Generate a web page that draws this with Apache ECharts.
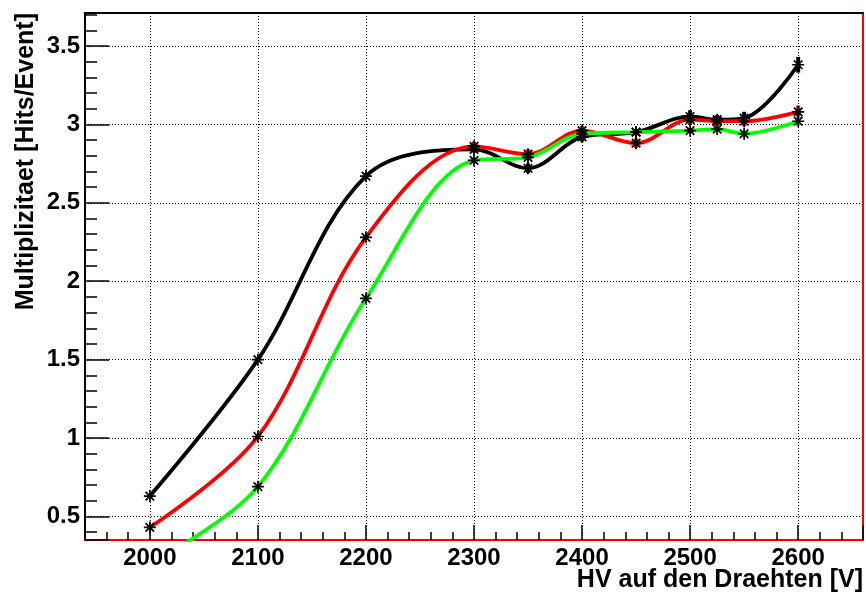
<!DOCTYPE html>
<html>
<head>
<meta charset="utf-8">
<script src="https://cdn.jsdelivr.net/npm/echarts@6/dist/echarts.min.js"></script>
<style>
html,body{margin:0;padding:0;background:#fff;}
#c{width:866px;height:596px;}
</style>
</head>
<body>
<div id="c"></div>
<script>
// ---- data ----
const voltages = [2000, 2100, 2200, 2300, 2350, 2400, 2450, 2500, 2525, 2550, 2600];
const blackValues = [0.63, 1.50, 2.67, 2.84, 2.72, 2.92, 2.95, 3.05, 3.03, 3.04, 3.38];
const redValues   = [0.43, 1.01, 2.28, 2.86, 2.81, 2.96, 2.88, 3.03, 3.02, 3.02, 3.08];
const greenValues = [0.20, 0.69, 1.89, 2.77, 2.79, 2.94, 2.95, 2.96, 2.97, 2.94, 3.02];
const blackErrors = [0.01, 0.01, 0.02, 0.02, 0.03, 0.03, 0.02, 0.04, 0.03, 0.04, 0.05];
const redErrors   = [0.01, 0.01, 0.01, 0.03, 0.03, 0.03, 0.03, 0.03, 0.03, 0.03, 0.04];
const greenErrors = [0.01, 0.01, 0.01, 0.02, 0.02, 0.02, 0.02, 0.02, 0.02, 0.02, 0.03];
const xTitle = 'HV auf den Draehten [V]';
const yTitle = 'Multiplizitaet [Hits/Event]';

// ---- chart ----
const FONT = '"Liberation Sans", Arial, Helvetica, sans-serif';
const XMIN = 1940, XMAX = 2660, YMIN = 0.35, YMAX = 3.71;
const STAR = 'path://M8.6 0h2.8v20h-2.8z M0 8.6h20v2.8h-20z M1.9 3.9L3.9 1.9L18.1 16.1L16.1 18.1z M16.1 1.9L18.1 3.9L3.9 18.1L1.9 16.1z';

function lineSeries(name, vals, color) {
  return {
    name: name, type: 'line', smooth: 0.35, clip: true,
    data: voltages.map((v, i) => [v, vals[i]]),
    symbol: STAR, symbolSize: 12, showAllSymbol: true,
    itemStyle: { color: '#000' },
    lineStyle: { color: color, width: 3.8 },
    z: 3, animation: false
  };
}
function errSeries(vals, errs, color) {
  return {
    type: 'custom', clip: true, silent: true, z: 2, animation: false,
    data: voltages.map((v, i) => [v, vals[i], errs[i]]),
    encode: { x: 0, y: 1 },
    renderItem: function (params, api) {
      const x = api.value(0), y = api.value(1), e = api.value(2);
      const p1 = api.coord([x, y - e]), p2 = api.coord([x, y + e]);
      return { type: 'line', shape: { x1: p1[0], y1: p1[1], x2: p2[0], y2: p2[1] },
               style: { stroke: color, lineWidth: 4 } };
    }
  };
}

const labelStyle = { fontFamily: FONT, fontWeight: 'bold', fontSize: 24, color: '#000' };
const dotted = { show: true, lineStyle: { color: '#000', width: 1, type: [1, 2] } };

const chart = echarts.init(document.getElementById('c'), null, { renderer: 'canvas' });
chart.setOption({
  animation: false,
  backgroundColor: '#fff',
  grid: { left: 85, right: 3, top: 13, bottom: 56, containLabel: false, outerBoundsMode: 'none' },
  graphic: [{
    type: 'text', right: 3, top: 568, silent: true,
    style: { text: xTitle, fontFamily: FONT, fontWeight: 'bold', fontSize: 25, fill: '#000' }
  }],
  xAxis: [{
    type: 'value', min: XMIN, max: XMAX, splitNumber: 7,
    axisLine: { show: true, onZero: false, lineStyle: { color: '#ff0000', width: 2 } },
    axisTick: { show: true, inside: true, length: 15, lineStyle: { color: '#000', width: 1.5 } },
    minorTick: { show: true, splitNumber: 5, length: 8, lineStyle: { color: '#000', width: 1.5 } },
    axisLabel: Object.assign({ margin: 6, formatter: v => (Math.abs(v % 100) < 1e-6 ? String(v) : '') }, labelStyle),
    splitLine: dotted
  }, {
    type: 'value', position: 'top', min: XMIN, max: XMAX,
    axisLine: { show: true, onZero: false, lineStyle: { color: '#000', width: 2 } },
    axisTick: { show: false }, axisLabel: { show: false }, splitLine: { show: false }
  }],
  yAxis: [{
    type: 'value', min: YMIN, max: YMAX, splitNumber: 6,
    axisLine: { show: true, onZero: false, lineStyle: { color: '#000', width: 2 } },
    axisTick: { show: true, inside: true, length: 24, lineStyle: { color: '#000', width: 1.5 } },
    minorTick: { show: true, splitNumber: 5, length: 12, lineStyle: { color: '#000', width: 1.5 } },
    axisLabel: Object.assign({ margin: 5, formatter: v => (Math.abs(v * 2 - Math.round(v * 2)) < 1e-6 ? String(v) : '') }, labelStyle),
    splitLine: dotted,
    name: yTitle, nameLocation: 'end', nameGap: 0, nameRotate: 90,
    nameTextStyle: { fontFamily: FONT, fontWeight: 'bold', fontSize: 25, color: '#000',
                     align: 'right', verticalAlign: 'bottom', padding: [0, 0, 46, 0] }
  }, {
    type: 'value', position: 'right', min: YMIN, max: YMAX,
    axisLine: { show: true, onZero: false, lineStyle: { color: '#ff0000', width: 2 } },
    axisTick: { show: false }, axisLabel: { show: false }, splitLine: { show: false }
  }],
  series: [
    errSeries(blackValues, blackErrors, '#000000'),
    errSeries(redValues, redErrors, '#ff0000'),
    errSeries(greenValues, greenErrors, '#00ff00'),
    lineSeries('black', blackValues, '#000000'),
    lineSeries('red', redValues, '#ff0000'),
    lineSeries('green', greenValues, '#00ff00')
  ]
});
</script>
</body>
</html>
